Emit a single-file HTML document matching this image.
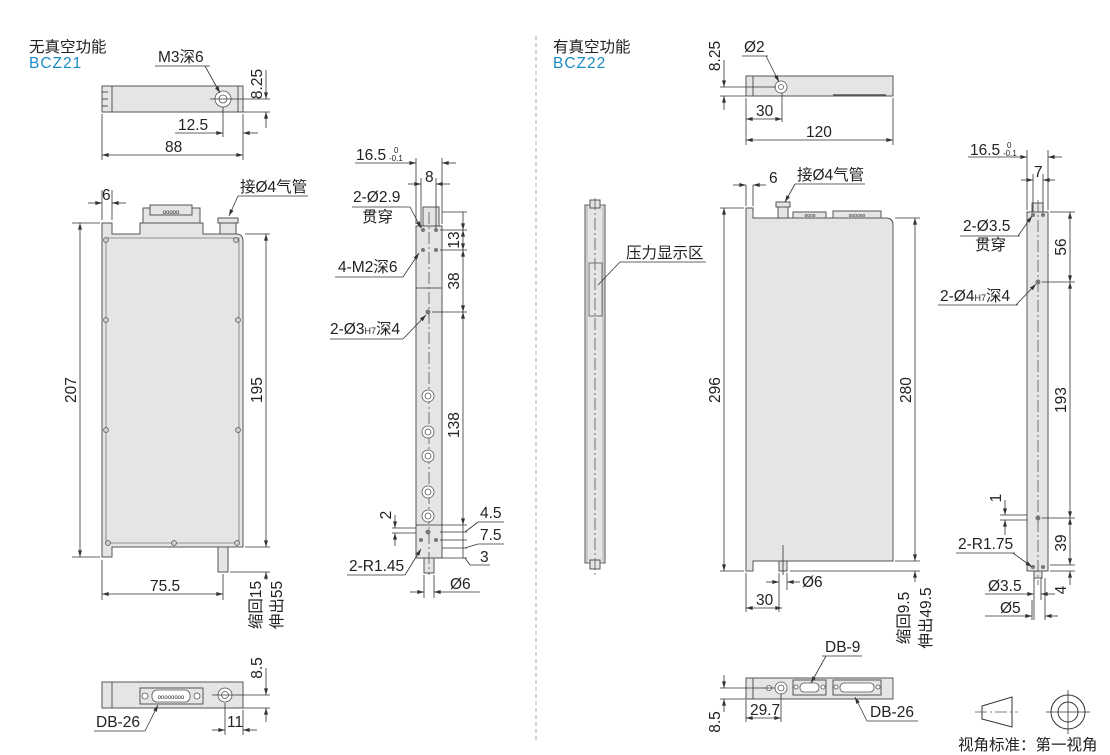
<!DOCTYPE html>
<html><head><meta charset="utf-8"><style>
html,body{margin:0;padding:0;background:#fff;}
svg{display:block;font-family:"Liberation Sans","Noto Sans CJK SC",sans-serif;}
text{font-size:15.5px;fill:#222;}
.b{fill:#e4e5e6;stroke:#555;stroke-width:1;}
.d{stroke:#333;stroke-width:0.8;fill:none;}
.c{stroke:#555;stroke-width:0.8;fill:none;stroke-dasharray:12 3 2 3;}
.h{fill:#fff;stroke:#555;stroke-width:0.8;}
.blue{fill:#1a8bc4;letter-spacing:1px;}
</style></head><body>
<svg width="1110" height="755" viewBox="0 0 1110 755">
<defs>
<marker id="a" viewBox="0 0 10 6" refX="10" refY="3" markerWidth="10" markerHeight="4" orient="auto-start-reverse" markerUnits="userSpaceOnUse"><path d="M0,0L10,3L0,6z" fill="#333"/></marker>
</defs>
<line x1="536" y1="36" x2="536" y2="742" stroke="#999" stroke-width="0.8" stroke-dasharray="4 3"/>

<text x="29" y="52">无真空功能</text>
<text x="29" y="68" class="blue">BCZ21</text>

<rect x="102" y="86" width="141" height="26" class="b"/>
<rect x="102" y="86" width="10" height="26" class="b"/>
<line x1="102" y1="92" x2="108" y2="92" class="d"/><line x1="102" y1="99" x2="108" y2="99" class="d"/><line x1="102" y1="106" x2="108" y2="106" class="d"/>
<line x1="238" y1="86" x2="238" y2="112" class="d"/>
<circle cx="223" cy="99" r="8" class="h"/><circle cx="223" cy="99" r="4" class="h"/>
<line x1="210" y1="99" x2="270" y2="99" class="d"/>
<line x1="243" y1="112" x2="270" y2="112" class="d"/>
<line x1="266" y1="70" x2="266" y2="99" class="d" marker-end="url(#a)"/>
<line x1="266" y1="128" x2="266" y2="112" class="d" marker-end="url(#a)"/>
<text x="262" y="84" transform="rotate(-90 262 84)" text-anchor="middle">8.25</text>
<text x="158" y="62">M3深6</text>
<line x1="155" y1="66" x2="210" y2="66" class="d"/>
<line x1="205" y1="66" x2="220" y2="93" class="d" marker-end="url(#a)"/>
<line x1="223" y1="107" x2="223" y2="137" class="d"/>
<line x1="102" y1="114" x2="102" y2="160" class="d"/>
<line x1="243" y1="114" x2="243" y2="160" class="d"/>
<line x1="175" y1="133" x2="223" y2="133" class="d" marker-end="url(#a)"/>
<line x1="258" y1="133" x2="243" y2="133" class="d" marker-end="url(#a)"/>
<text x="178" y="130">12.5</text>
<line x1="102" y1="155" x2="243" y2="155" class="d" marker-start="url(#a)" marker-end="url(#a)"/>
<text x="165" y="152">88</text>

<path d="M102,223 L112,223 L112,234 L140,234 L140,223 L203,223 L203,234 L236,234 Q243,234 243,241 L243,547 L112,547 L112,557 L102,557 Z" class="b"/>
<path d="M106,238 L239,238 L239,543 L106,543 Z" fill="none" stroke="#777" stroke-width="0.8"/>
<rect x="143" y="208" width="57" height="15" class="b"/>
<rect x="150" y="205" width="42" height="10" class="b"/>
<text x="171" y="214" text-anchor="middle" style="font-size:6px">ooooo</text>
<rect x="220" y="222" width="16" height="12" class="b"/>
<rect x="218" y="218" width="20" height="5" class="b"/>
<rect x="218" y="547" width="10" height="25" class="b"/>
<g fill="#ccc" stroke="#555" stroke-width="0.7">
<circle cx="106" cy="240" r="2.5"/><circle cx="236" cy="240" r="2.5"/>
<circle cx="106" cy="320" r="2.5"/><circle cx="238" cy="320" r="2.5"/>
<circle cx="106" cy="430" r="2.5"/><circle cx="238" cy="430" r="2.5"/>
<circle cx="108" cy="543" r="2.5"/><circle cx="174" cy="543" r="2.5"/><circle cx="237" cy="543" r="2.5"/>
</g>
<line x1="102" y1="190" x2="102" y2="220" class="d"/><line x1="112" y1="190" x2="112" y2="220" class="d"/>
<line x1="88" y1="203" x2="102" y2="203" class="d" marker-end="url(#a)"/>
<line x1="126" y1="203" x2="112" y2="203" class="d" marker-end="url(#a)"/>
<text x="102" y="200">6</text>
<text x="240" y="192">接Ø4气管</text>
<line x1="238" y1="196" x2="308" y2="196" class="d"/>
<line x1="238" y1="196" x2="229" y2="216" class="d" marker-end="url(#a)"/>
<line x1="72" y1="223" x2="100" y2="223" class="d"/>
<line x1="72" y1="557" x2="100" y2="557" class="d"/>
<line x1="80" y1="223" x2="80" y2="557" class="d" marker-start="url(#a)" marker-end="url(#a)"/>
<text x="76" y="390" transform="rotate(-90 76 390)" text-anchor="middle">207</text>
<line x1="245" y1="234" x2="270" y2="234" class="d"/>
<line x1="245" y1="547" x2="270" y2="547" class="d"/>
<line x1="230" y1="572" x2="270" y2="572" class="d"/>
<line x1="266" y1="234" x2="266" y2="547" class="d" marker-start="url(#a)" marker-end="url(#a)"/>
<text x="262" y="390" transform="rotate(-90 262 390)" text-anchor="middle">195</text>
<line x1="266" y1="580" x2="266" y2="572" class="d" marker-end="url(#a)"/>
<line x1="102" y1="560" x2="102" y2="600" class="d"/><line x1="223" y1="574" x2="223" y2="600" class="d"/>
<line x1="102" y1="594" x2="223" y2="594" class="d" marker-start="url(#a)" marker-end="url(#a)"/>
<text x="150" y="591">75.5</text>
<text x="261" y="605" transform="rotate(-90 261 605)" text-anchor="middle">缩回15</text>
<text x="282" y="605" transform="rotate(-90 282 605)" text-anchor="middle">伸出55</text>

<rect x="102" y="682" width="141" height="26" class="b"/>
<rect x="102" y="682" width="10" height="26" class="b"/>
<rect x="140" y="688" width="63" height="16" class="b"/>
<rect x="152" y="690" width="38" height="12" rx="5" class="h"/>
<circle cx="145" cy="696" r="3" class="h"/><circle cx="197" cy="696" r="3" class="h"/>
<text x="171" y="699" text-anchor="middle" style="font-size:6px">oooooooo</text>
<circle cx="225" cy="695" r="7" class="h"/><circle cx="225" cy="695" r="3.5" class="h"/>
<line x1="212" y1="695" x2="270" y2="695" class="d"/>
<line x1="243" y1="708" x2="270" y2="708" class="d"/>
<line x1="266" y1="668" x2="266" y2="695" class="d" marker-end="url(#a)"/>
<line x1="266" y1="722" x2="266" y2="708" class="d" marker-end="url(#a)"/>
<text x="262" y="668" transform="rotate(-90 262 668)" text-anchor="middle">8.5</text>
<line x1="225" y1="703" x2="225" y2="735" class="d"/><line x1="243" y1="710" x2="243" y2="735" class="d"/>
<line x1="212" y1="730" x2="225" y2="730" class="d" marker-end="url(#a)"/>
<line x1="257" y1="730" x2="243" y2="730" class="d" marker-end="url(#a)"/>
<text x="227" y="727">11</text>
<text x="96" y="727">DB-26</text>
<line x1="94" y1="731" x2="145" y2="731" class="d"/>
<line x1="145" y1="731" x2="158" y2="705" class="d" marker-end="url(#a)"/>

<rect x="423" y="207" width="16" height="19" class="b"/>
<rect x="416" y="226" width="26" height="332" class="b"/>
<line x1="416" y1="288" x2="442" y2="288" class="d"/>
<line x1="416" y1="525" x2="442" y2="525" class="d"/>
<rect x="424" y="558" width="10" height="15" class="b"/>
<line x1="429" y1="212" x2="429" y2="575" class="c"/>
<g fill="#777">
<circle cx="423" cy="230" r="2"/><circle cx="436" cy="230" r="2"/>
<circle cx="423" cy="250" r="2"/><circle cx="436" cy="250" r="2"/>
<circle cx="428" cy="312" r="2.5"/><circle cx="428" cy="532" r="2.5"/>
<circle cx="421" cy="540" r="2"/><circle cx="436" cy="540" r="2"/>
</g>
<g class="h">
<circle cx="428" cy="396" r="6"/><circle cx="428" cy="396" r="3"/>
<circle cx="428" cy="432" r="6"/><circle cx="428" cy="432" r="3"/>
<circle cx="428" cy="456" r="6"/><circle cx="428" cy="456" r="3"/>
<circle cx="428" cy="492" r="6"/><circle cx="428" cy="492" r="3"/>
<circle cx="428" cy="516" r="6"/><circle cx="428" cy="516" r="3"/>
</g>
<line x1="416" y1="158" x2="416" y2="224" class="d"/><line x1="442" y1="158" x2="442" y2="224" class="d"/>
<line x1="355" y1="163" x2="416" y2="163" class="d" marker-end="url(#a)"/>
<line x1="456" y1="163" x2="442" y2="163" class="d" marker-end="url(#a)"/>
<text x="356" y="160">16.5</text><text x="389" y="161" style="font-size:8px">-0.1</text><text x="394" y="153" style="font-size:8px">0</text>
<line x1="421" y1="178" x2="421" y2="228" class="d"/><line x1="436" y1="178" x2="436" y2="228" class="d"/>
<line x1="408" y1="184" x2="421" y2="184" class="d" marker-end="url(#a)"/>
<line x1="450" y1="184" x2="436" y2="184" class="d" marker-end="url(#a)"/>
<text x="425" y="182">8</text>
<text x="353" y="202">2-Ø2.9</text><text x="362" y="222">贯穿</text>
<line x1="352" y1="207" x2="410" y2="207" class="d"/>
<line x1="410" y1="207" x2="421" y2="228" class="d" marker-end="url(#a)"/>
<text x="338" y="272">4-M2深6</text>
<line x1="335" y1="277" x2="403" y2="277" class="d"/>
<line x1="403" y1="277" x2="419" y2="253" class="d" marker-end="url(#a)"/>
<text x="330" y="334">2-Ø3<tspan style="font-size:9px">H7</tspan>深4</text>
<line x1="330" y1="339" x2="403" y2="339" class="d"/>
<line x1="403" y1="339" x2="426" y2="315" class="d" marker-end="url(#a)"/>
<line x1="442" y1="212" x2="467" y2="212" class="d"/>
<line x1="440" y1="230" x2="467" y2="230" class="d"/>
<line x1="440" y1="250" x2="467" y2="250" class="d"/>
<line x1="432" y1="312" x2="467" y2="312" class="d"/>
<line x1="442" y1="525" x2="467" y2="525" class="d"/>
<line x1="440" y1="532" x2="467" y2="532" class="d"/>
<line x1="440" y1="540" x2="467" y2="540" class="d"/>
<line x1="442" y1="548" x2="467" y2="548" class="d"/>
<line x1="442" y1="558" x2="467" y2="558" class="d"/>
<line x1="463" y1="212" x2="463" y2="230" class="d" marker-end="url(#a)"/>
<line x1="463" y1="230" x2="463" y2="250" class="d" marker-start="url(#a)" marker-end="url(#a)"/>
<line x1="463" y1="250" x2="463" y2="312" class="d" marker-start="url(#a)" marker-end="url(#a)"/>
<line x1="463" y1="312" x2="463" y2="525" class="d" marker-start="url(#a)" marker-end="url(#a)"/>
<line x1="463" y1="525" x2="463" y2="558" class="d"/>
<text x="459" y="240" transform="rotate(-90 459 240)" text-anchor="middle">13</text>
<text x="459" y="281" transform="rotate(-90 459 281)" text-anchor="middle">38</text>
<text x="459" y="425" transform="rotate(-90 459 425)" text-anchor="middle">138</text>
<text x="480" y="518">4.5</text><line x1="478" y1="522" x2="504" y2="522" class="d"/><line x1="478" y1="522" x2="465" y2="532" class="d"/>
<text x="480" y="540">7.5</text><line x1="478" y1="544" x2="504" y2="544" class="d"/><line x1="478" y1="544" x2="465" y2="548" class="d"/>
<text x="480" y="562">3</text><line x1="470" y1="565" x2="490" y2="565" class="d"/><line x1="470" y1="565" x2="465" y2="558" class="d"/>
<line x1="392" y1="528" x2="416" y2="528" class="d"/><line x1="392" y1="533" x2="416" y2="533" class="d"/>
<line x1="395" y1="515" x2="395" y2="528" class="d" marker-end="url(#a)"/>
<line x1="395" y1="546" x2="395" y2="533" class="d" marker-end="url(#a)"/>
<text x="391" y="515" transform="rotate(-90 391 515)" text-anchor="middle">2</text>
<text x="349" y="571">2-R1.45</text>
<line x1="347" y1="575" x2="405" y2="575" class="d"/>
<line x1="405" y1="575" x2="421" y2="549" class="d" marker-end="url(#a)"/>
<line x1="424" y1="575" x2="424" y2="598" class="d"/><line x1="434" y1="575" x2="434" y2="598" class="d"/>
<line x1="410" y1="592" x2="424" y2="592" class="d" marker-end="url(#a)"/>
<line x1="480" y1="592" x2="434" y2="592" class="d" marker-end="url(#a)"/>
<text x="450" y="589">Ø6</text>

<text x="553" y="52">有真空功能</text>
<text x="553" y="68" class="blue">BCZ22</text>

<rect x="585" y="205" width="20" height="358" class="b"/>
<rect x="587" y="205" width="16" height="358" fill="none" stroke="#888" stroke-width="0.6"/>
<rect x="590" y="200" width="10" height="8" class="b"/>
<rect x="590" y="560" width="10" height="9" class="b"/>
<line x1="595" y1="198" x2="595" y2="575" class="c"/>
<rect x="589" y="263" width="13" height="53" fill="none" stroke="#555" stroke-width="0.8"/>
<text x="626" y="258">压力显示区</text>
<line x1="620" y1="262" x2="706" y2="262" class="d"/>
<line x1="620" y1="262" x2="598" y2="285" class="d"/>

<rect x="746" y="76" width="147" height="20" class="b"/>
<rect x="746" y="76" width="7" height="20" class="b"/>
<line x1="833" y1="95" x2="886" y2="95" stroke="#555" stroke-width="1.5"/>
<circle cx="781" cy="87" r="6" class="h"/><circle cx="781" cy="87" r="2.5" class="h"/>
<line x1="720" y1="87" x2="776" y2="87" class="d"/>
<line x1="720" y1="96" x2="746" y2="96" class="d"/>
<line x1="724" y1="60" x2="724" y2="87" class="d" marker-end="url(#a)"/>
<line x1="724" y1="110" x2="724" y2="96" class="d" marker-end="url(#a)"/>
<text x="720" y="56" transform="rotate(-90 720 56)" text-anchor="middle">8.25</text>
<text x="744" y="52">Ø2</text>
<line x1="742" y1="56" x2="768" y2="56" class="d"/>
<line x1="766" y1="56" x2="779" y2="82" class="d" marker-end="url(#a)"/>
<line x1="746" y1="98" x2="746" y2="145" class="d"/><line x1="893" y1="98" x2="893" y2="145" class="d"/>
<line x1="782" y1="93" x2="782" y2="122" class="d"/>
<line x1="746" y1="119" x2="782" y2="119" class="d" marker-start="url(#a)" marker-end="url(#a)"/>
<text x="756" y="116">30</text>
<line x1="746" y1="140" x2="893" y2="140" class="d" marker-start="url(#a)" marker-end="url(#a)"/>
<text x="806" y="137">120</text>

<path d="M746,208 L753,208 L753,218 L886,218 Q893,218 893,225 L893,561 L753,561 L753,571 L746,571 Z" class="b"/>
<rect x="778" y="206" width="10" height="12" class="b"/><rect x="776" y="202" width="14" height="5" class="b"/>
<rect x="793" y="212" width="33" height="6" class="b"/><rect x="833" y="211" width="48" height="7" class="b"/>
<text x="810" y="217" text-anchor="middle" style="font-size:5px">oooo</text>
<text x="857" y="217" text-anchor="middle" style="font-size:5px">oooooo</text>
<rect x="779" y="561" width="8" height="10" class="b"/>
<line x1="783" y1="545" x2="783" y2="575" class="d"/>
<line x1="746" y1="185" x2="746" y2="206" class="d"/><line x1="753" y1="185" x2="753" y2="206" class="d"/>
<line x1="733" y1="185" x2="746" y2="185" class="d" marker-end="url(#a)"/>
<line x1="766" y1="185" x2="753" y2="185" class="d" marker-end="url(#a)"/>
<text x="769" y="183">6</text>
<text x="797" y="180">接Ø4气管</text>
<line x1="795" y1="184" x2="865" y2="184" class="d"/>
<line x1="795" y1="184" x2="785" y2="202" class="d" marker-end="url(#a)"/>
<line x1="720" y1="208" x2="744" y2="208" class="d"/>
<line x1="720" y1="571" x2="744" y2="571" class="d"/>
<line x1="724" y1="208" x2="724" y2="571" class="d" marker-start="url(#a)" marker-end="url(#a)"/>
<text x="720" y="390" transform="rotate(-90 720 390)" text-anchor="middle">296</text>
<line x1="895" y1="218" x2="920" y2="218" class="d"/>
<line x1="895" y1="561" x2="920" y2="561" class="d"/>
<line x1="790" y1="571" x2="920" y2="571" class="d"/>
<line x1="915" y1="218" x2="915" y2="561" class="d" marker-start="url(#a)" marker-end="url(#a)"/>
<text x="911" y="390" transform="rotate(-90 911 390)" text-anchor="middle">280</text>
<line x1="915" y1="582" x2="915" y2="571" class="d" marker-end="url(#a)"/>
<line x1="779" y1="573" x2="779" y2="612" class="d"/><line x1="787" y1="573" x2="787" y2="590" class="d"/>
<line x1="766" y1="582" x2="779" y2="582" class="d" marker-end="url(#a)"/>
<line x1="800" y1="582" x2="787" y2="582" class="d" marker-end="url(#a)"/>
<text x="802" y="587">Ø6</text>
<line x1="746" y1="573" x2="746" y2="612" class="d"/>
<line x1="746" y1="608" x2="782" y2="608" class="d" marker-start="url(#a)" marker-end="url(#a)"/>
<text x="756" y="605">30</text>
<text x="909" y="618" transform="rotate(-90 909 618)" text-anchor="middle">缩回9.5</text>
<text x="931" y="618" transform="rotate(-90 931 618)" text-anchor="middle">伸出49.5</text>

<rect x="746" y="678" width="147" height="21" class="b"/>
<rect x="746" y="678" width="7" height="21" class="b"/>
<circle cx="769" cy="688" r="2.5" class="h"/>
<circle cx="781" cy="688" r="6" class="h"/><circle cx="781" cy="688" r="3" class="h"/>
<rect x="793" y="680" width="33" height="15" class="b"/>
<rect x="800" y="683" width="19" height="9" rx="4" class="h"/>
<circle cx="796" cy="687" r="2" class="h"/><circle cx="823" cy="687" r="2" class="h"/>
<rect x="833" y="680" width="48" height="15" class="b"/>
<rect x="840" y="683" width="34" height="9" rx="4" class="h"/>
<circle cx="836" cy="687" r="2" class="h"/><circle cx="878" cy="687" r="2" class="h"/>
<line x1="720" y1="688" x2="775" y2="688" class="d"/>
<line x1="720" y1="699" x2="746" y2="699" class="d"/>
<line x1="724" y1="675" x2="724" y2="688" class="d" marker-end="url(#a)"/>
<line x1="724" y1="712" x2="724" y2="699" class="d" marker-end="url(#a)"/>
<text x="720" y="722" transform="rotate(-90 720 722)" text-anchor="middle">8.5</text>
<line x1="746" y1="700" x2="746" y2="722" class="d"/><line x1="781" y1="694" x2="781" y2="722" class="d"/>
<line x1="746" y1="718" x2="781" y2="718" class="d" marker-start="url(#a)" marker-end="url(#a)"/>
<text x="750" y="715">29.7</text>
<text x="825" y="652">DB-9</text>
<line x1="822" y1="656" x2="862" y2="656" class="d"/>
<line x1="826" y1="656" x2="811" y2="683" class="d" marker-end="url(#a)"/>
<text x="870" y="717">DB-26</text>
<line x1="867" y1="721" x2="918" y2="721" class="d"/>
<line x1="867" y1="721" x2="855" y2="697" class="d" marker-end="url(#a)"/>

<rect x="1032" y="203" width="11" height="9" class="b"/>
<rect x="1027" y="212" width="21" height="359" class="b"/>
<rect x="1034" y="571" width="8" height="7" class="b"/>
<line x1="1038" y1="200" x2="1038" y2="585" class="c"/>
<g fill="#777">
<circle cx="1033" cy="215" r="2"/><circle cx="1043" cy="215" r="2"/>
<circle cx="1038" cy="282" r="2.5"/><circle cx="1038" cy="518" r="2.5"/>
<circle cx="1033" cy="567" r="2"/><circle cx="1043" cy="567" r="2"/>
</g>
<line x1="1027" y1="150" x2="1027" y2="210" class="d"/><line x1="1048" y1="150" x2="1048" y2="210" class="d"/>
<line x1="968" y1="157" x2="1027" y2="157" class="d" marker-end="url(#a)"/>
<line x1="1062" y1="157" x2="1048" y2="157" class="d" marker-end="url(#a)"/>
<text x="970" y="155">16.5</text><text x="1003" y="156" style="font-size:8px">-0.1</text><text x="1007" y="148" style="font-size:8px">0</text>
<line x1="1033" y1="174" x2="1033" y2="212" class="d"/><line x1="1043" y1="174" x2="1043" y2="212" class="d"/>
<line x1="1021" y1="180" x2="1033" y2="180" class="d" marker-end="url(#a)"/>
<line x1="1055" y1="180" x2="1043" y2="180" class="d" marker-end="url(#a)"/>
<text x="1034" y="177">7</text>
<text x="963" y="231">2-Ø3.5</text><text x="975" y="250">贯穿</text>
<line x1="960" y1="236" x2="1020" y2="236" class="d"/>
<line x1="1018" y1="236" x2="1032" y2="216" class="d" marker-end="url(#a)"/>
<text x="940" y="301">2-Ø4<tspan style="font-size:9px">H7</tspan>深4</text>
<line x1="938" y1="305" x2="1018" y2="305" class="d"/>
<line x1="1016" y1="305" x2="1036" y2="284" class="d" marker-end="url(#a)"/>
<line x1="1050" y1="212" x2="1075" y2="212" class="d"/>
<line x1="1042" y1="282" x2="1075" y2="282" class="d"/>
<line x1="1042" y1="518" x2="1075" y2="518" class="d"/>
<line x1="1050" y1="565" x2="1075" y2="565" class="d"/>
<line x1="1050" y1="571" x2="1075" y2="571" class="d"/>
<line x1="1070" y1="212" x2="1070" y2="282" class="d" marker-start="url(#a)" marker-end="url(#a)"/>
<line x1="1070" y1="282" x2="1070" y2="518" class="d" marker-start="url(#a)" marker-end="url(#a)"/>
<line x1="1070" y1="518" x2="1070" y2="565" class="d" marker-start="url(#a)" marker-end="url(#a)"/>
<line x1="1070" y1="585" x2="1070" y2="571" class="d" marker-end="url(#a)"/>
<text x="1066" y="247" transform="rotate(-90 1066 247)" text-anchor="middle">56</text>
<text x="1066" y="400" transform="rotate(-90 1066 400)" text-anchor="middle">193</text>
<text x="1066" y="543" transform="rotate(-90 1066 543)" text-anchor="middle">39</text>
<text x="1066" y="590" transform="rotate(-90 1066 590)" text-anchor="middle">4</text>
<line x1="1000" y1="515" x2="1027" y2="515" class="d"/><line x1="1000" y1="520" x2="1027" y2="520" class="d"/>
<line x1="1005" y1="500" x2="1005" y2="515" class="d" marker-end="url(#a)"/>
<line x1="1005" y1="535" x2="1005" y2="520" class="d" marker-end="url(#a)"/>
<text x="1001" y="498" transform="rotate(-90 1001 498)" text-anchor="middle">1</text>
<text x="958" y="549">2-R1.75</text>
<line x1="956" y1="553" x2="1015" y2="553" class="d"/>
<line x1="1013" y1="553" x2="1032" y2="567" class="d" marker-end="url(#a)"/>
<line x1="1034" y1="578" x2="1034" y2="620" class="d"/><line x1="1041" y1="578" x2="1041" y2="600" class="d"/>
<line x1="1032" y1="600" x2="1032" y2="620" class="d"/><line x1="1045" y1="578" x2="1045" y2="620" class="d"/>
<line x1="985" y1="594" x2="1034" y2="594" class="d" marker-end="url(#a)"/>
<line x1="1055" y1="594" x2="1041" y2="594" class="d" marker-end="url(#a)"/>
<text x="988" y="591">Ø3.5</text>
<line x1="985" y1="616" x2="1032" y2="616" class="d" marker-end="url(#a)"/>
<line x1="1058" y1="616" x2="1045" y2="616" class="d" marker-end="url(#a)"/>
<text x="1000" y="613">Ø5</text>

<path d="M982,706 L1012,697 L1012,727 L982,719 Z" fill="none" stroke="#333" stroke-width="1"/>
<line x1="975" y1="712" x2="1018" y2="712" class="c"/>
<circle cx="1068" cy="712" r="17" fill="none" stroke="#333" stroke-width="1"/>
<circle cx="1068" cy="712" r="10" fill="none" stroke="#333" stroke-width="1"/>
<line x1="1046" y1="712" x2="1090" y2="712" class="d"/>
<line x1="1068" y1="690" x2="1068" y2="734" class="d"/>
<text x="958" y="750">视角标准：第一视角</text>
</svg>
</body></html>
